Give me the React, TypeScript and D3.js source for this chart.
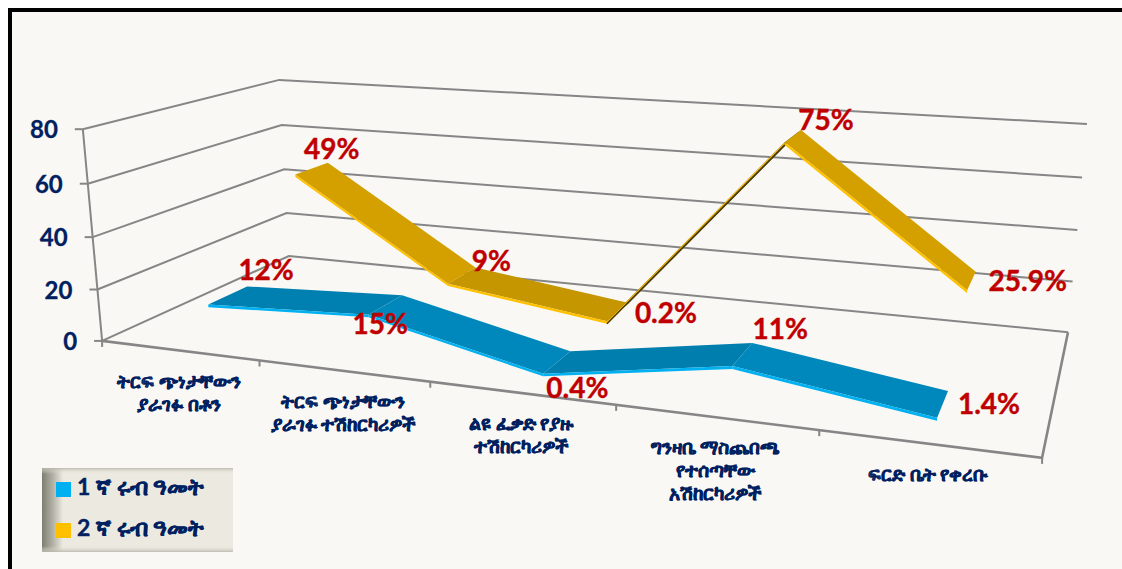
import * as d3 from 'd3';

const categories = [
    ['ትርፍ ጭነታቸውን', 'ያራገፉ በቶን'],
    ['ትርፍ ጭነታቸውን', 'ያራገፉ ተሽከርካሪዎች'],
    ['ልዩ ፈቃድ የያዙ', 'ተሽከርካሪዎች'],
    ['ግንዛቤ ማስጨበጫ', 'የተሰጣቸው', 'አሽከርካሪዎች'],
    ['ፍርድ ቤት የቀረቡ'],
];
const seriesNames = ['1 ኛ ሩብ ዓመት', '2 ኛ ሩብ ዓመት'];
const quarter1 = [12, 15, 0.4, 11, 1.4];
const quarter2 = [49, 9, 0.2, 75, 25.9];
const quarter1Labels = ['12%', '15%', '0.4%', '11%', '1.4%'];
const quarter2Labels = ['49%', '9%', '0.2%', '75%', '25.9%'];
const yTicks = [0, 20, 40, 60, 80];

const WIDTH = 1122;
const HEIGHT = 569;
const NAVY = '#002060';
const RED = '#C00000';
const AXIS = '#868686';
const UNDERSIDE = '#4A3A00';
const FONT = 'Lato, "Open Sans", sans-serif';
const ETHIOPIC = 'Lato, "Noto Sans", "DejaVu Sans", sans-serif';

// where the corners of the chart box land on the page: [u, depth, z] -> [x, y]
const calibration: [number, number, number, number, number][] = [
    [0, 0, 0, 102, 341],
    [1, 0, 0, 1042, 458],
    [1, 1, 0, 1068, 332],
    [0, 1, 0, 289, 256],
    [0, 0, 1, 83, 129],
    [0, 1, 1, 279, 80],
    [1, 1, 1, 1087, 124],
];

// least squares fit of the 3x4 camera matrix
function fitCamera() {
    const rows: number[][] = [];
    const rhs: number[] = [];
    calibration.forEach(([u, d, z, x, y]) => {
        rows.push([u, d, z, 1, 0, 0, 0, 0, -x * u, -x * d, -x * z]);
        rhs.push(x);
        rows.push([0, 0, 0, 0, u, d, z, 1, -y * u, -y * d, -y * z]);
        rhs.push(y);
    });
    const n = 11;
    const m = d3.range(n).map((i) => [
        ...d3.range(n).map((j) => d3.sum(rows, (r) => r[i] * r[j])),
        d3.sum(rows, (r, k) => r[i] * rhs[k]),
    ]);
    for (let i = 0; i < n; i++) {
        let best = i;
        for (let k = i + 1; k < n; k++) if (Math.abs(m[k][i]) > Math.abs(m[best][i])) best = k;
        [m[i], m[best]] = [m[best], m[i]];
        for (let k = 0; k < n; k++) {
            if (k === i) continue;
            const f = m[k][i] / m[i][i];
            for (let j = i; j <= n; j++) m[k][j] -= f * m[i][j];
        }
    }
    return m.map((r, i) => r[n] / r[i]);
}

const cam = fitCamera();
function project(u: number, d: number, z: number): [number, number] {
    const w = cam[8] * u + cam[9] * d + cam[10] * z + 1;
    return [
        (cam[0] * u + cam[1] * d + cam[2] * z + cam[3]) / w,
        (cam[4] * u + cam[5] * d + cam[6] * z + cam[7]) / w,
    ];
}

const uScale = d3.scaleBand<number>().domain(d3.range(categories.length)).range([0, 1]);
const depthScale = d3
    .scaleBand<number>()
    .domain([0, 1])
    .range([0, 1])
    .paddingInner(0.6)
    .paddingOuter(0.3);
const zScale = d3.scaleLinear().domain([0, 80]).range([0, 1]);
const line = d3.line();

const ribbons = [
    {
        values: quarter2,
        labels: quarter2Labels,
        depth: 1,
        lip: '#FFC000',
        tops: ['#D4A000', '#C69600', UNDERSIDE, '#D4A000'],
        offsets: [[4, -4], [16, 4], [37, 20], [25, 0], [52, 19]],
    },
    {
        values: quarter1,
        labels: quarter1Labels,
        depth: 0,
        lip: '#00B0F0',
        tops: ['#0080B0', '#0088BC', '#007EAE', '#0088BC'],
        offsets: [[19, -6], [-22, 39], [7, 47], [28, -4], [41, 23]],
    },
];

function Ribbon({ r }: { r: (typeof ribbons)[number] }) {
    const d0 = depthScale(r.depth) as number;
    const d1 = d0 + depthScale.bandwidth();
    const cx = (i: number) => (uScale(i) as number) + uScale.bandwidth() / 2;
    const lipZ = zScale(1);
    return (
        <g>
            {d3.range(r.values.length - 1).map((i) => {
                const a = zScale(r.values[i]);
                const b = zScale(r.values[i + 1]);
                const top = [
                    project(cx(i), d0, a),
                    project(cx(i), d1, a),
                    project(cx(i + 1), d1, b),
                    project(cx(i + 1), d0, b),
                ];
                const lip = [
                    project(cx(i), d0, a),
                    project(cx(i + 1), d0, b),
                    project(cx(i + 1), d0, b - lipZ),
                    project(cx(i), d0, a - lipZ),
                ];
                return (
                    <g key={i}>
                        <path d={line(top) + 'Z'} fill={r.tops[i]} />
                        <path d={line(lip) + 'Z'} fill={r.lip} />
                        {r.tops[i] === UNDERSIDE && (
                            // seen from below this stretch shows its dark side next to the lip
                            <path d={line(lip.slice(2)) as string} fill="none" stroke={UNDERSIDE} strokeWidth={1.5} />
                        )}
                    </g>
                );
            })}
        </g>
    );
}

export default function App() {
    const levels = yTicks.map((t) => zScale(t));
    const defs = (
        <defs>
            <linearGradient id="legendLeft" x1="0" x2="1" y1="0" y2="0">
                <stop offset="0" stopColor="#7E7D72" />
                <stop offset="0.06" stopColor="#B5B4A9" />
                <stop offset="0.11" stopColor="#ECEAE0" />
                <stop offset="1" stopColor="#ECEAE0" />
            </linearGradient>
            <linearGradient id="legendTop" x1="0" x2="0" y1="0" y2="1">
                <stop offset="0" stopColor="#B9B8AC" stopOpacity="0.9" />
                <stop offset="0.07" stopColor="#ECEAE0" stopOpacity="0" />
                <stop offset="0.93" stopColor="#ECEAE0" stopOpacity="0" />
                <stop offset="1" stopColor="#B9B8AC" stopOpacity="0.9" />
            </linearGradient>
        </defs>
    );
    return (
        <svg
            width={WIDTH}
            height={HEIGHT}
            viewBox={`0 0 ${WIDTH} ${HEIGHT}`}
            style={{ position: 'absolute', left: 0, top: 0, background: '#fff' }}
        >
            {defs}
            <rect x={10} y={10} width={WIDTH} height={HEIGHT} fill="#F9F8F4" stroke="#000" strokeWidth={4} />

            {/* walls */}
            <g fill="none" stroke={AXIS} strokeWidth={2}>
                {levels.map((z, i) => (
                    <path key={i} d={line([project(0, 0, z), project(0, 1, z), project(1, 1, z)]) as string} />
                ))}
                <path d={line([project(0, 0, 1), project(0, 0, 0)]) as string} />
                <path d={line([project(0, 0, 0), project(1, 0, 0), project(1, 1, 0)]) as string} strokeWidth={2.6} />
                {levels.map((z, i) => {
                    const [x, y] = project(0, 0, z);
                    return <path key={i} d={`M${x},${y}h-8`} />;
                })}
                {d3.range(categories.length + 1).map((i) => {
                    const [x, y] = project(i / categories.length, 0, 0);
                    return <path key={i} d={`M${x},${y}v6`} />;
                })}
            </g>

            {/* y labels */}
            <g fill={NAVY} fontFamily={FONT} fontWeight={700} fontSize={24} textAnchor="end" stroke={NAVY} strokeWidth={0.3}>
                {yTicks.map((t, i) => {
                    const [x, y] = project(0, 0, levels[i]);
                    return (
                        <text key={t} x={x - 25} y={y + 9}>
                            {t}
                        </text>
                    );
                })}
            </g>

            {/* category labels */}
            <g
                fill={NAVY}
                stroke={NAVY}
                strokeWidth={0.4}
                fontFamily={ETHIOPIC}
                fontWeight={700}
                fontSize={19}
                textAnchor="middle"
            >
                {categories.map((lines, i) => {
                    const [x, y] = project((uScale(i) as number) + uScale.bandwidth() / 2, 0, 0);
                    return (
                        <text key={i} x={x} y={y + 37}>
                            {lines.map((l, j) => (
                                <tspan key={j} x={x} dy={j ? 23 : 0}>
                                    {l}
                                </tspan>
                            ))}
                        </text>
                    );
                })}
            </g>

            {ribbons.map((r) => (
                <Ribbon key={r.depth} r={r} />
            ))}

            {/* data labels */}
            <g fill={RED} stroke={RED} strokeWidth={0.4} fontFamily={FONT} fontWeight={700} fontSize={28} textAnchor="middle">
                {ribbons.map((r) =>
                    r.labels.map((l, i) => {
                        const d1 = (depthScale(r.depth) as number) + depthScale.bandwidth();
                        const [x, y] = project(
                            (uScale(i) as number) + uScale.bandwidth() / 2,
                            d1,
                            zScale(r.values[i])
                        );
                        return (
                            <text key={l} x={x + r.offsets[i][0]} y={y + r.offsets[i][1]}>
                                {l}
                            </text>
                        );
                    })
                )}
            </g>

            {/* legend */}
            <g>
                <rect x={42} y={468} width={191} height={84} fill="url(#legendLeft)" />
                <rect x={42} y={468} width={191} height={84} fill="url(#legendTop)" />
                {seriesNames.map((name, i) => (
                    <g key={name} transform={`translate(56,${482 + i * 41})`}>
                        <rect width={15} height={15} fill={i ? '#FFC000' : '#00B0F0'} />
                        <text
                            x={21}
                            y={13}
                            fill={NAVY}
                            stroke={NAVY}
                            strokeWidth={0.4}
                            fontFamily={ETHIOPIC}
                            fontWeight={700}
                            fontSize={23}
                        >
                            {name}
                        </text>
                    </g>
                ))}
            </g>
        </svg>
    );
}
